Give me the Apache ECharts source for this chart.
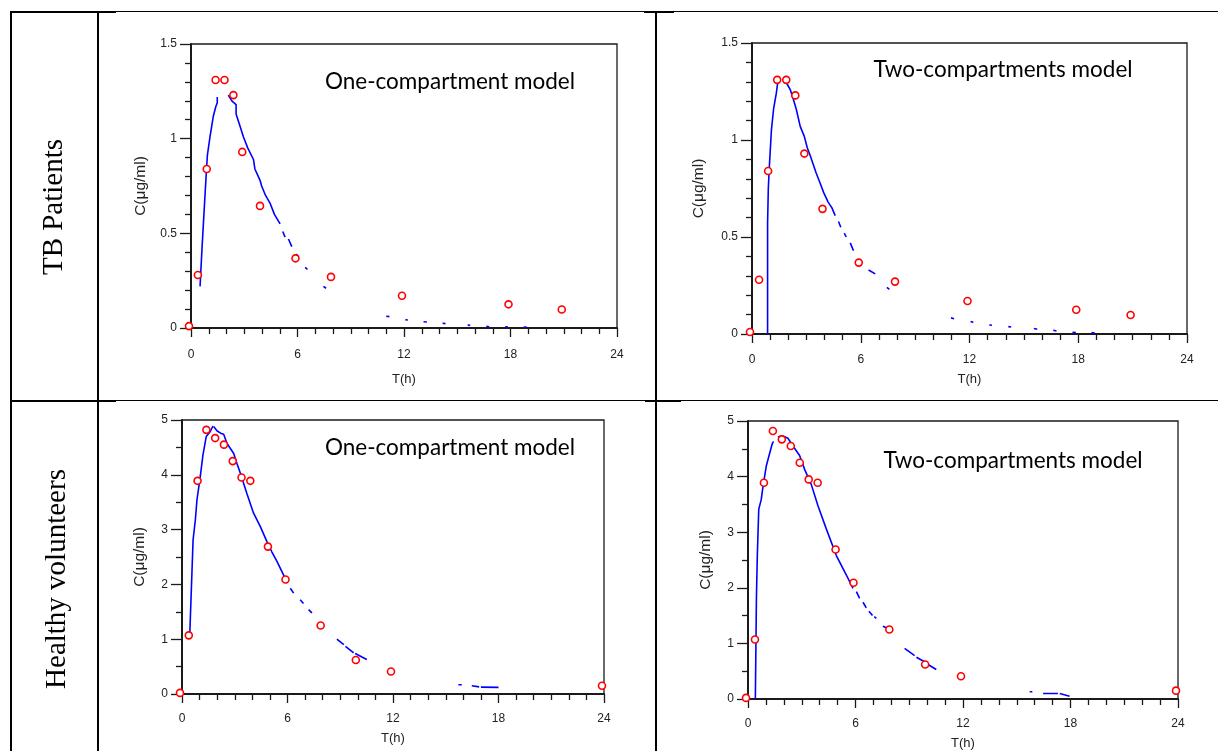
<!DOCTYPE html>
<html><head><meta charset="utf-8">
<script src="https://cdn.jsdelivr.net/npm/echarts@6/dist/echarts.min.js"></script>
<style>html,body{margin:0;padding:0;background:#fff}#c{width:1218px;height:751px}</style>
</head><body><div id="c"></div>
<script>
// ---------- DATA ----------
const rowLabels = ['TB Patients', 'Healthy volunteers'];
const modelTitles = ['One-compartment model', 'Two-compartments model'];
const xAxisName = 'T(h)';
const yAxisName = 'C(μg/ml)';

// observed concentrations
const tbTimes = [0, 0.5, 1, 1.5, 2, 2.5, 3, 4, 6, 8, 12, 18, 21];
const tbConc  = [0.01, 0.28, 0.84, 1.31, 1.31, 1.23, 0.93, 0.645, 0.368, 0.27, 0.17, 0.125, 0.098];
const hvTimes = [0, 0.5, 1, 1.5, 2, 2.5, 3, 3.5, 4, 5, 6, 8, 10, 12, 24];
const hvConc  = [0.02, 1.07, 3.89, 4.82, 4.67, 4.55, 4.25, 3.95, 3.89, 2.69, 2.09, 1.25, 0.62, 0.41, 0.15];

// fitted curves, as visible segments of [t, C]
const tbOneFit = [
  [[0.51,0.22],[0.62,0.42],[0.74,0.62],[0.85,0.80],[0.92,0.91],[1.07,1.01],[1.26,1.12],[1.40,1.17],[1.48,1.19],[1.48,1.22]],
  [[2.10,1.23],[2.30,1.20],[2.54,1.18],[2.54,1.13],[2.75,1.07],[2.95,1.01],[3.20,0.95],[3.52,0.89],[3.60,0.84],[3.89,0.78],[3.98,0.75],[4.20,0.70],[4.45,0.66],[4.70,0.60],[5.02,0.55]],
  [[5.17,0.51],[5.30,0.48]],
  [[5.49,0.47],[5.68,0.43]],
  [[5.90,0.39],[6.05,0.38]],
  [[6.43,0.32],[6.56,0.31]],
  [[7.46,0.22],[7.61,0.21]],
  [[11.00,0.062],[11.18,0.060]],
  [[12.07,0.044],[12.22,0.042]],
  [[13.10,0.033],[13.29,0.032]],
  [[14.17,0.025],[14.34,0.023]],
  [[15.58,0.016],[15.73,0.014]],
  [[16.64,0.009],[16.80,0.007]],
  [[17.70,0.007],[17.86,0.005]],
  [[18.74,0.005],[18.93,0.004]]
];
const tbTwoFit = [
  [[0.86,0],[0.86,0.57],[0.90,0.75],[0.95,0.85],[1.07,1.05],[1.19,1.16],[1.34,1.24],[1.47,1.33]],
  [[1.84,1.33],[1.93,1.29],[2.11,1.26],[2.28,1.21],[2.44,1.16],[2.66,1.07],[2.88,1.02],[3.05,0.96],[3.21,0.92],[3.54,0.83],[3.75,0.78],[3.95,0.73],[4.20,0.68],[4.41,0.65],[4.59,0.61]],
  [[4.77,0.58],[4.90,0.55]],
  [[5.09,0.52],[5.20,0.50]],
  [[5.42,0.47],[5.60,0.43]],
  [[6.43,0.33],[6.80,0.31]],
  [[7.44,0.24],[7.58,0.23]],
  [[10.98,0.083],[11.15,0.079]],
  [[12.06,0.064],[12.21,0.060]],
  [[13.09,0.046],[13.24,0.045]],
  [[14.14,0.038],[14.30,0.036]],
  [[15.55,0.028],[15.74,0.024]],
  [[16.62,0.019],[16.80,0.015]],
  [[17.68,0.009],[17.87,0.007]],
  [[18.73,0.007],[18.91,0.005]]
];
const hvOneFit = [
  [[0.44,1.07],[0.63,2.81],[0.76,3.18],[0.85,3.54],[1.04,3.97],[1.19,4.36],[1.38,4.70],[1.46,4.73],[1.61,4.79],[1.76,4.89]],
  [[1.80,4.88],[2.00,4.80],[2.20,4.76],[2.37,4.74],[2.56,4.57],[2.75,4.48],[2.94,4.39],[3.13,4.20],[3.32,4.03],[3.69,3.66],[4.07,3.30],[4.45,3.06],[4.83,2.78],[5.10,2.60],[5.40,2.42],[5.78,2.17],[5.97,2.02]],
  [[6.16,1.93],[6.35,1.84]],
  [[6.72,1.72],[6.91,1.65]],
  [[7.20,1.54],[7.39,1.48]],
  [[8.81,1.00],[9.20,0.90]],
  [[9.30,0.87],[9.76,0.75]],
  [[9.85,0.74],[10.51,0.63]],
  [[15.72,0.17],[15.91,0.17]],
  [[16.48,0.15],[16.90,0.13]],
  [[17.00,0.125],[18.00,0.12]]
];
const hvTwoFit = [
  [[0.41,0],[0.47,1.81],[0.52,2.58],[0.60,3.41],[0.74,3.59],[0.84,3.83],[1.02,4.19],[1.21,4.42],[1.36,4.60],[1.43,4.63]],
  [[1.67,4.71],[1.85,4.73]],
  [[1.95,4.73],[2.23,4.69],[2.51,4.55],[2.88,4.38],[3.16,4.13],[3.53,3.86],[3.91,3.47],[4.37,3.06],[4.93,2.58],[5.49,2.23],[5.86,1.99]],
  [[6.05,1.93],[6.23,1.81]],
  [[6.42,1.74],[6.60,1.64]],
  [[6.75,1.58],[6.95,1.50]],
  [[7.05,1.48],[7.16,1.45]],
  [[7.53,1.31],[7.72,1.28]],
  [[8.74,0.91],[9.30,0.78]],
  [[9.40,0.75],[9.90,0.66]],
  [[10.00,0.63],[10.51,0.53]],
  [[15.72,0.13],[15.87,0.13]],
  [[16.47,0.10],[17.30,0.10]],
  [[17.40,0.10],[17.95,0.05]]
];

// ---------- LAYOUT ----------
const panels = [
  {grid:{left:191,top:44,width:426,height:284}, yMax:1.5, yInt:0.5, ySplit:5, t:tbTimes, c:tbConc, fit:tbOneFit, title:modelTitles[0], tx:450, ty:82, lm:21, xg:45, yg:42},
  {grid:{left:752,top:43,width:435,height:291}, yMax:1.5, yInt:0.5, ySplit:5, t:tbTimes, c:tbConc, fit:tbTwoFit, title:modelTitles[1], tx:1003, ty:70, lm:20, xg:39, yg:45},
  {grid:{left:182,top:420,width:422,height:274}, yMax:5, yInt:1, ySplit:2, t:hvTimes, c:hvConc, fit:hvOneFit, title:modelTitles[0], tx:450, ty:448, lm:19, xg:38, yg:34},
  {grid:{left:748,top:421,width:430,height:281}, yMax:5, yInt:1, ySplit:2, t:hvTimes, c:hvConc, fit:hvTwoFit, title:modelTitles[1], tx:1013, ty:461, lm:19, xg:38, yg:34}
];

const axisCol = '#1a1a1a';
const labelFont = {fontFamily:'Liberation Sans', fontSize:12, color:'#222'};
const grids=[], xAxes=[], yAxes=[], series=[], graphics=[];

panels.forEach((p,i)=>{
  grids.push(Object.assign({show:true, borderColor:axisCol, borderWidth:1.3, backgroundColor:'transparent'}, p.grid));
  xAxes.push({
    gridIndex:i, type:'value', min:0, max:24, interval:6,
    name:xAxisName, nameLocation:'middle', nameGap:p.xg,
    nameTextStyle:{fontFamily:'Liberation Sans', fontSize:13, color:'#222'},
    axisLine:{show:true, onZero:false, lineStyle:{color:axisCol, width:2}},
    axisTick:{show:true, inside:false, length:9, lineStyle:{color:axisCol, width:1.3}},
    minorTick:{show:true, splitNumber:6, length:6, lineStyle:{color:axisCol, width:1.3}},
    axisLabel:Object.assign({margin:p.lm, showMinLabel:true, showMaxLabel:true}, labelFont),
    splitLine:{show:false}
  });
  yAxes.push({
    gridIndex:i, type:'value', min:0, max:p.yMax, interval:p.yInt,
    name:yAxisName, nameLocation:'middle', nameGap:p.yg, nameRotate:90,
    nameTextStyle:{fontFamily:'Liberation Sans', fontSize:15.5, color:'#222'},
    axisLine:{show:true, onZero:false, lineStyle:{color:axisCol, width:2}},
    axisTick:{show:true, inside:false, length:11, lineStyle:{color:axisCol, width:1.3}},
    minorTick:{show:true, splitNumber:p.ySplit, length:6, lineStyle:{color:axisCol, width:1.3}},
    axisLabel:Object.assign({margin:14}, labelFont),
    splitLine:{show:false}
  });
  p.fit.forEach(seg=>{
    series.push({type:'line', xAxisIndex:i, yAxisIndex:i, data:seg, showSymbol:false, symbol:'none',
      lineStyle:{color:'#0000ff', width:1.6}, z:2, silent:true, animation:false, clip:true});
  });
  series.push({type:'scatter', xAxisIndex:i, yAxisIndex:i,
    data:p.t.map((t,k)=>[t,p.c[k]]),
    symbol:'circle', symbolSize:7, symbolOffset:[-2,0],
    itemStyle:{color:'#ffffff', borderColor:'#ff0000', borderWidth:1.6, opacity:1},
    z:3, animation:false, clip:false});
  graphics.push({type:'text', x:p.tx, y:p.ty, z:10,
    style:{text:p.title, font:'22.5px Lato', fill:'#000', align:'center', verticalAlign:'middle', textAlign:'center', textVerticalAlign:'middle'}});
});

// table lines
function hline(y,x1,x2,w){graphics.push({type:'line', shape:{x1:x1,y1:y,x2:x2,y2:y}, style:{stroke:'#000', lineWidth:w}, z:1});}
function vline(x,y1,y2,w){graphics.push({type:'line', shape:{x1:x,y1:y1,x2:x,y2:y2}, style:{stroke:'#000', lineWidth:w}, z:1});}
hline(11.5, 10, 1218, 1);
hline(12, 10, 116, 2);
hline(12, 644, 674, 2);
hline(400.5, 10, 1218, 1);
hline(401, 10, 116, 2);
hline(401, 645, 681, 2);
vline(11, 11, 751, 2);
vline(98, 11, 751, 2);
vline(656, 11, 751, 2);

// row labels
const rowPos = [[54,207],[57,579]];
rowLabels.forEach((t,i)=>{
  graphics.push({type:'text', x:rowPos[i][0], y:rowPos[i][1], rotation:Math.PI/2, z:10,
    style:{text:t, font:'29px "Liberation Serif"', fill:'#000', align:'center', verticalAlign:'middle', textAlign:'center', textVerticalAlign:'middle'}});
});

const chart = echarts.init(document.getElementById('c'), null, {renderer:'canvas'});
chart.setOption({
  animation:false, backgroundColor:'#ffffff',
  grid:grids, xAxis:xAxes, yAxis:yAxes, series:series, graphic:graphics
});
</script></body></html>
